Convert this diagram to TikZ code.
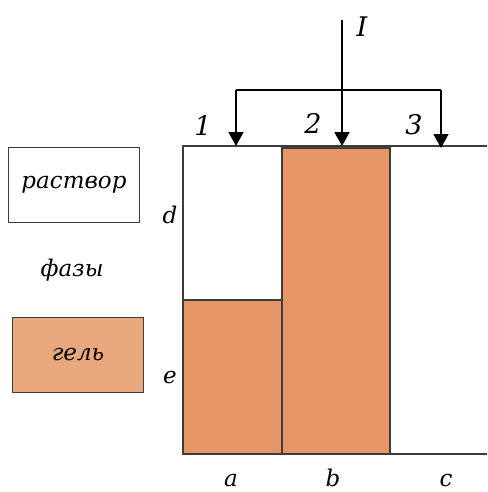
\documentclass[tikz,border=0pt]{standalone}
\usepackage{fontspec}
\setmainfont{DejaVu Serif}
\usetikzlibrary{arrows.meta}
\definecolor{gelink}{RGB}{230,149,102}
\definecolor{gelkey}{RGB}{233,167,124}
\definecolor{edgeink}{RGB}{60,60,60}

\begin{document}
\begin{tikzpicture}[x=1pt, y=-1pt, font=\itshape\fontsize{23}{25}\selectfont,
  keybox/.style={draw=edgeink, line width=1.3pt, minimum width=131pt, minimum height=75pt},
  feed/.style={line width=1.8pt, -{Triangle[width=15pt,length=14pt]}},
  big/.style={font=\itshape\fontsize{27}{29}\selectfont}]
  \useasboundingbox (0,0) rectangle (487,492);
  % columns a, b, c
  \fill[gelink] (183,300) rectangle (282,454);
  \fill[gelink] (282,148) rectangle (390,454);
  \draw[edgeink, line width=1.3pt] (183,300) rectangle (282,454);
  \draw[edgeink, line width=1.3pt] (282,148) rectangle (390,454);
  \draw[edgeink, line width=1.3pt] (487,146) -- (183,146) -- (183,454) -- (487,454);
  % feed
  \coordinate (src) at (342,20);
  \coordinate (fork) at (342,90);
  \coordinate (forkl) at (236,90);
  \coordinate (forkr) at (441,90);
  \coordinate (tipa) at (236,146);
  \coordinate (tipb) at (342,146);
  \coordinate (tipc) at (441,148);
  \draw[line width=1.8pt] (forkl) -- (forkr);
  \draw[feed] (src) -- (tipb);
  \draw[feed] (forkl) -- (tipa);
  \draw[feed] (forkr) -- (tipc);
  \node[big] (lI) at (362,27) {I};
  \node[big] (l1) at (203,125) {1};
  \node[big] (l2) at (313,123) {2};
  \node[big] (l3) at (414,125) {3};
  % key
  \node[keybox] (sol) at (74,185) {раствор};
  \node (phase) at (72,270) {фазы};
  \node[keybox, fill=gelkey] (gel) at (78,355) {гель};
  \node (ld) at (170,215) {d};
  \node (le) at (170,378) {e};
  \node[anchor=base, inner sep=0pt] (la) at (231,486) {a};
  \node[anchor=base, inner sep=0pt] (lb) at (333,486) {b};
  \node[anchor=base, inner sep=0pt] (lc) at (446,486) {c};
\end{tikzpicture}
\end{document}
